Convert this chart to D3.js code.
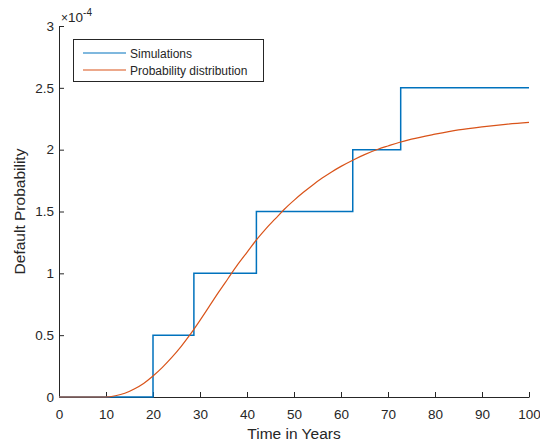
<!DOCTYPE html>
<html>
<head>
<meta charset="utf-8">
<script src="https://cdn.jsdelivr.net/npm/d3@7"></script>
<style>
  body { margin: 0; background: #fff; }
  text { font-family: "Liberation Sans", Arial, sans-serif; fill: #262626; }
</style>
</head>
<body>
<div id="chart"></div>
<script>
var w = 540, h = 446;
var margin = {top: 26, right: 10, bottom: 49, left: 59};

// simulated default probability (x 1e-4), step changes
var simYears = [0, 20, 28.7, 42, 62.5, 72.7, 100];
var simProb = [0, 0.5, 1, 1.5, 2, 2.5, 2.5];

// fitted probability distribution (x 1e-4)
var distYears = [0, 10, 12, 14, 16, 18, 20, 22, 24, 26, 28, 30, 32, 34, 36, 38, 40, 42, 44, 46, 48, 50,
                 52, 54, 56, 58, 60, 62.5, 65, 68, 70, 72.5, 75, 80, 85, 90, 95, 100];
var distProb = [0, 0, 0.01, 0.03, 0.065, 0.11, 0.17, 0.24, 0.32, 0.41, 0.51, 0.62, 0.735, 0.85, 0.96, 1.07, 1.17, 1.27, 1.36, 1.44, 1.52, 1.59,
                1.655, 1.715, 1.77, 1.82, 1.865, 1.915, 1.96, 2.005, 2.03, 2.06, 2.085, 2.125, 2.16, 2.185, 2.205, 2.22];

var xTicks = [0, 10, 20, 30, 40, 50, 60, 70, 80, 90, 100];
var yTicks = [0, 0.5, 1, 1.5, 2, 2.5, 3];
var legendLabels = ["Simulations", "Probability distribution"];
var colors = ["#0072BD", "#D95319"];

var svg = d3.select("#chart").append("svg")
    .attr("width", w)
    .attr("height", h);

var xScale = d3.scaleLinear()
    .domain([0, 100])
    .range([margin.left, w - margin.right - 1]);

var yScale = d3.scaleLinear()
    .domain([0, 3])
    .range([h - margin.bottom, margin.top]);

// axes, ticks pointing inward like matlab
svg.append("g")
    .attr("transform", "translate(0," + yScale(0) + ")")
    .call(d3.axisBottom(xScale).tickValues(xTicks).tickSizeInner(-5).tickSizeOuter(0).tickPadding(12));
svg.append("g")
    .attr("transform", "translate(" + xScale(0) + ",0)")
    .call(d3.axisLeft(yScale).tickValues(yTicks).tickFormat(d3.format("")).tickSizeInner(-5).tickSizeOuter(0).tickPadding(5));

svg.selectAll(".domain").attr("stroke", "#262626");
svg.selectAll(".tick line").attr("stroke", "#262626");
svg.selectAll(".tick text").attr("font-size", 13.5).attr("fill", "#404040")
    .style("font-family", "Liberation Sans, Arial, sans-serif");

// series
var stepLine = d3.line()
    .x(function(d, i) { return xScale(simYears[i]); })
    .y(function(d) { return yScale(d); })
    .curve(d3.curveStepAfter);

var smoothLine = d3.line()
    .x(function(d, i) { return xScale(distYears[i]); })
    .y(function(d) { return yScale(d); })
    .curve(d3.curveMonotoneX);

svg.append("path")
    .datum(simProb)
    .attr("d", stepLine)
    .attr("fill", "none")
    .attr("stroke", colors[0])
    .attr("stroke-width", 1.5);

svg.append("path")
    .datum(distProb)
    .attr("d", smoothLine)
    .attr("fill", "none")
    .attr("stroke", colors[1])
    .attr("stroke-width", 1.2);

// exponent label
var expo = svg.append("text")
    .attr("x", xScale(0) + 2)
    .attr("y", 21.5)
    .attr("fill", "#404040")
    .style("font-size", "13.5px");
expo.append("tspan").style("font-size", "12px").text("\u00d7");
expo.append("tspan").text("10");
expo.append("tspan").attr("dy", -6).style("font-size", "10px").text("-4");

// axis titles
svg.append("text")
    .attr("x", (xScale(0) + xScale(100)) / 2)
    .attr("y", 439)
    .attr("text-anchor", "middle")
    .attr("font-size", 15.5)
    .text("Time in Years");

svg.append("text")
    .attr("transform", "translate(25," + ((yScale(0) + yScale(3)) / 2) + ") rotate(-90)")
    .attr("text-anchor", "middle")
    .attr("font-size", 15.5)
    .text("Default Probability");

// legend
var legend = svg.append("g");
legend.append("rect")
    .attr("x", 73.5)
    .attr("y", 39.5)
    .attr("width", 190)
    .attr("height", 42)
    .attr("fill", "#fff")
    .attr("stroke", "#262626")
    .attr("stroke-width", 1);

legend.selectAll(".legendline")
    .data(legendLabels)
    .enter()
    .append("line")
    .attr("x1", 83)
    .attr("x2", 126)
    .attr("y1", function(d, i) { return 53 + i * 17; })
    .attr("y2", function(d, i) { return 53 + i * 17; })
    .attr("stroke", function(d, i) { return colors[i]; })
    .attr("stroke-width", 1.2);

legend.selectAll(".legendlabel")
    .data(legendLabels)
    .enter()
    .append("text")
    .attr("x", 130)
    .attr("y", function(d, i) { return 57.5 + i * 17; })
    .attr("font-size", 12)
    .text(function(d) { return d; });
</script>
</body>
</html>
